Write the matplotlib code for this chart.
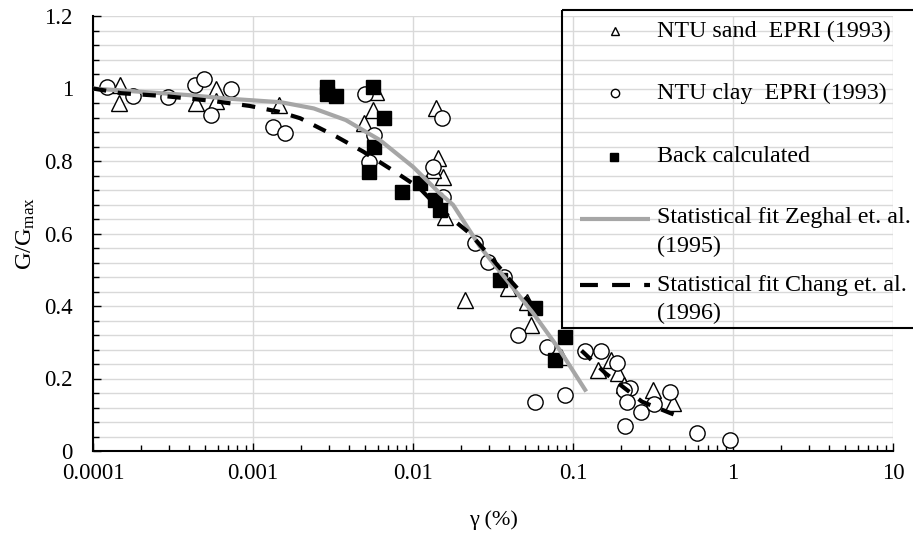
import numpy as np
import matplotlib
matplotlib.use("Agg")
import matplotlib.pyplot as plt
from matplotlib.patches import Rectangle
from matplotlib.ticker import MultipleLocator, LogLocator, NullFormatter, FixedFormatter, FixedLocator

plt.rcParams['font.family'] = ['Liberation Serif', 'DejaVu Serif']
plt.rcParams['mathtext.fontset'] = 'custom'
plt.rcParams['mathtext.rm'] = 'Liberation Serif'
plt.rcParams['mathtext.it'] = 'Liberation Serif:italic'

# NTU sand, EPRI (1993)
sand_x = [1.47e-4, 1.45e-4, 4.43e-4, 5.9e-4, 5.9e-4, 1.45e-3, 4.94e-3, 5.6e-3, 5.9e-3,
          0.0139, 0.0144, 0.0153, 0.0134, 0.0158, 0.0211, 0.0394, 0.0514, 0.055,
          0.0845, 0.144, 0.172, 0.19, 0.208, 0.318, 0.424]
sand_y = [1.01, 0.96, 0.96, 1.0, 0.965, 0.955, 0.905, 0.94, 0.99,
          0.945, 0.807, 0.755, 0.775, 0.645, 0.417, 0.45, 0.41, 0.348,
          0.26, 0.223, 0.25, 0.214, 0.182, 0.168, 0.132]

# NTU clay, EPRI (1993)
clay_x = [1.22e-4, 1.78e-4, 2.94e-4, 4.33e-4, 4.94e-4, 5.49e-4, 7.26e-4, 1.33e-3, 1.58e-3,
          5.0e-3, 5.7e-3, 5.33e-3, 0.0151, 0.0134, 0.0154, 0.0244, 0.0296, 0.037,
          0.0455, 0.0686, 0.058, 0.0891, 0.119, 0.149, 0.189, 0.227, 0.208, 0.216,
          0.212, 0.266, 0.32, 0.404, 0.593, 0.96]
clay_y = [1.005, 0.98, 0.976, 1.01, 1.025, 0.927, 1.0, 0.895, 0.878,
          0.985, 0.872, 0.798, 0.918, 0.784, 0.70, 0.573, 0.522, 0.481,
          0.32, 0.288, 0.135, 0.155, 0.277, 0.277, 0.242, 0.173, 0.168, 0.136,
          0.069, 0.108, 0.13, 0.164, 0.05, 0.03]

# back calculated moduli
back_x = [2.9e-3, 2.9e-3, 3.3e-3, 5.6e-3, 6.6e-3, 5.7e-3, 5.33e-3, 8.5e-3, 0.0111,
          0.0137, 0.0147, 0.035, 0.0579, 0.0891, 0.0772]
back_y = [1.005, 0.985, 0.978, 1.005, 0.918, 0.84, 0.77, 0.715, 0.738,
          0.692, 0.665, 0.472, 0.394, 0.315, 0.251]

# Zeghal et al. (1995) fit
zeghal_x = [1e-4, 3.9e-4, 7e-4, 1.5e-3, 2.4e-3, 3.8e-3, 6.2e-3, 0.01, 0.0147, 0.0178,
            0.0262, 0.0385, 0.0564, 0.0825, 0.121]
zeghal_y = [1.0, 0.982, 0.972, 0.962, 0.945, 0.913, 0.858, 0.784, 0.711, 0.679,
            0.564, 0.472, 0.38, 0.279, 0.164]

# Chang et al. (1996) fit, two pieces
chang_x = [1e-4, 1.5e-4, 2.8e-4, 5.5e-4, 9.5e-4, 1.45e-3, 1.97e-3, 3.33e-3, 4.88e-3,
           7.74e-3, 0.011, 0.0145, 0.0227, 0.031, 0.042, 0.062, np.nan,
           0.113, 0.16, 0.27, 0.436]
chang_y = [1.0, 0.987, 0.979, 0.966, 0.952, 0.936, 0.918, 0.867, 0.826,
           0.77, 0.725, 0.67, 0.60, 0.532, 0.463, 0.38, np.nan,
           0.277, 0.214, 0.136, 0.099]

x_ticks = [1e-4, 1e-3, 1e-2, 1e-1, 1, 10]
x_labels = ['0.0001', '0.001', '0.01', '0.1', '1', '10']
y_ticks = [0, 0.2, 0.4, 0.6, 0.8, 1.0, 1.2]
y_labels = ['0', '0.2', '0.4', '0.6', '0.8', '1', '1.2']

legend_labels = [
    ['NTU sand  EPRI (1993)'],
    ['NTU clay  EPRI (1993)'],
    ['Back calculated'],
    ['Statistical fit Zeghal et. al.', '(1995)'],
    ['Statistical fit Chang et. al.', '(1996)'],
]

FS = 16.5
LEG_FS = 17.3
DASH = (3.2, 2.8)

fig = plt.figure(figsize=(9.13, 5.38), dpi=100)
ax = fig.add_axes([93 / 913, 87 / 538, 800 / 913, 435 / 538])

ms = 11
ax.plot(sand_x, sand_y, ls='none', marker='^', ms=ms, mfc='white', mec='black', mew=1.0, zorder=3)
ax.plot(clay_x, clay_y, ls='none', marker='o', ms=ms, mfc='white', mec='black', mew=1.0, zorder=4)
ax.plot(back_x, back_y, ls='none', marker='s', ms=10.5, mfc='black', mec='black', zorder=5)
ax.plot(zeghal_x, zeghal_y, color='#a6a6a6', lw=3, zorder=6, solid_capstyle='butt')
ax.plot(chang_x, chang_y, color='black', lw=3, dashes=DASH, zorder=7)

ax.set_xscale('log')
ax.set_xlim(1e-4, 10)
ax.set_ylim(0, 1.2)
ax.xaxis.set_major_locator(FixedLocator(x_ticks))
ax.xaxis.set_major_formatter(FixedFormatter(x_labels))
ax.xaxis.set_minor_locator(LogLocator(base=10, subs=np.arange(2, 10)))
ax.xaxis.set_minor_formatter(NullFormatter())
ax.yaxis.set_major_locator(FixedLocator(y_ticks))
ax.yaxis.set_major_formatter(FixedFormatter(y_labels))
ax.yaxis.set_minor_locator(MultipleLocator(0.04))

ax.grid(True, which='both', axis='y', color='#d9d9d9', lw=1.0, zorder=0)
ax.grid(True, which='major', axis='x', color='#d9d9d9', lw=1.0, zorder=0)
ax.set_axisbelow(True)

for s in ['top', 'right']:
    ax.spines[s].set_visible(False)
for s in ['left', 'bottom']:
    ax.spines[s].set_linewidth(1.5)
    ax.spines[s].set_color('black')

ax.tick_params(which='both', direction='in', labelsize=FS, colors='black')
ax.tick_params(which='major', length=6, width=1.0)
ax.tick_params(which='minor', length=4, width=1.0)
ax.tick_params(axis='y', which='major', pad=14.5)
ax.tick_params(axis='x', which='major', pad=8.5)

ax.set_xlabel('γ (%)', fontsize=16, labelpad=19)
ax.set_ylabel('G/G$_{\\mathrm{max}}$', fontsize=17.5, labelpad=5)

# legend box laid out in pixel units on a transparent overlay
lax = fig.add_axes([0, 0, 1, 1], facecolor='none')
lax.set_xlim(0, 913)
lax.set_ylim(538, 0)
lax.axis('off')

lax.add_patch(Rectangle((562, 10), 370, 318, fill=False, edgecolor='black', lw=1.5))
lax.plot([615], [31], ls='none', marker='^', ms=6, mfc='white', mec='black', mew=1.0)
lax.plot([615], [93], ls='none', marker='o', ms=6, mfc='white', mec='black', mew=1.0)
lax.plot([614], [157], ls='none', marker='s', ms=6, mfc='black', mec='black')
lax.plot([580, 650], [219, 219], color='#a6a6a6', lw=3, solid_capstyle='butt')
lax.plot([580, 650], [285, 285], color='black', lw=3, dashes=(4.3, 3.4))

row_y = [[31], [93], [157], [218, 246], [285, 313]]
for lines, ys in zip(legend_labels, row_y):
    for txt, yy in zip(lines, ys):
        lax.text(657, yy, txt, fontsize=LEG_FS, ha='left', va='center')

fig.savefig('out.png', dpi=100)
